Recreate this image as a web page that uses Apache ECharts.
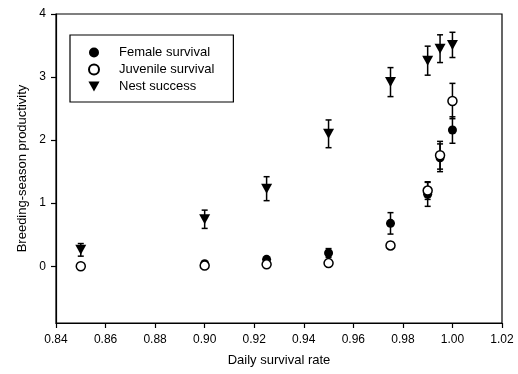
<!DOCTYPE html>
<html>
<head>
<meta charset="utf-8">
<script src="https://cdn.jsdelivr.net/npm/echarts@6/dist/echarts.min.js"></script>
<style>
  html, body { margin: 0; padding: 0; background: #fff; }
  #chart { width: 518px; height: 374px; }
</style>
</head>
<body>
<div id="chart"></div>
<script>
// daily survival rate levels (x)
const xVals = [0.85, 0.90, 0.925, 0.95, 0.975, 0.99, 0.995, 1.00];

// breeding-season productivity, mean and SE
const female = [0, 0.04, 0.11, 0.21, 0.68, 1.14, 1.72, 2.16];
const femaleErr = [0, 0.02, 0.03, 0.07, 0.17, 0.19, 0.22, 0.21];
const juvenile = [0, 0.01, 0.03, 0.05, 0.33, 1.2, 1.76, 2.62];
const juvenileErr = [0, 0.01, 0.02, 0.03, 0.05, 0.14, 0.22, 0.28];
const nest = [0.26, 0.745, 1.23, 2.1, 2.92, 3.26, 3.45, 3.51];
const nestErr = [0.1, 0.145, 0.19, 0.22, 0.23, 0.23, 0.22, 0.2];

const xTicks = [0.84, 0.86, 0.88, 0.90, 0.92, 0.94, 0.96, 0.98, 1.00, 1.02];
const yTicks = [0, 1, 2, 3, 4];

const FONT = "'Liberation Sans', Arial, sans-serif";

function pts(ys) {
  return xVals.map((x, i) => [x, ys[i]]);
}
function errData(ys, es) {
  return xVals
    .map((x, i) => [x, ys[i] - es[i], ys[i] + es[i]])
    .filter((d, i) => es[i] > 0);
}

function errBars(name, ys, es) {
  return {
    type: "custom",
    name: name + " err",
    data: errData(ys, es),
    encode: { x: 0, y: [1, 2] },
    z: 1,
    silent: true,
    renderItem: (params, api) => {
      const x = api.value(0);
      const lo = api.coord([x, api.value(1)]);
      const hi = api.coord([x, api.value(2)]);
      const cap = 3;
      const style = { stroke: "#000", lineWidth: 1.5 };
      return {
        type: "group",
        children: [
          { type: "line", shape: { x1: lo[0], y1: lo[1], x2: hi[0], y2: hi[1] }, style },
          { type: "line", shape: { x1: lo[0] - cap, y1: lo[1], x2: lo[0] + cap, y2: lo[1] }, style },
          { type: "line", shape: { x1: hi[0] - cap, y1: hi[1], x2: hi[0] + cap, y2: hi[1] }, style },
        ],
      };
    },
  };
}

const chart = echarts.init(document.getElementById("chart"), null, { renderer: "canvas" });

chart.setOption({
  animation: false,
  backgroundColor: "#fff",
  grid: {
    left: 56, right: 16, top: 14, bottom: 51,
    show: true, borderColor: "#000", borderWidth: 1.2,
  },
  legend: {
    orient: "vertical",
    left: 70, top: 35,
    padding: [11, 19, 9, 18],
    itemGap: 4,
    itemWidth: 40,
    itemHeight: 10,
    borderColor: "#000",
    borderWidth: 1.2,
    data: ["Female survival", "Juvenile survival", "Nest success"],
    textStyle: { fontFamily: FONT, fontSize: 13, color: "#000" },
  },
  xAxis: {
    type: "value",
    min: 0.84, max: 1.02,
    name: "Daily survival rate",
    nameLocation: "middle",
    nameGap: 31,
    nameTextStyle: { fontFamily: FONT, fontSize: 13, color: "#000" },
    axisLine: { onZero: false, lineStyle: { color: "#000", width: 1.2 } },
    axisTick: { customValues: xTicks, length: 5, lineStyle: { color: "#000", width: 1.2 } },
    axisLabel: {
      customValues: xTicks,
      margin: 11,
      fontFamily: FONT, fontSize: 12, color: "#000",
      formatter: (v) => v.toFixed(2),
    },
    splitLine: { show: false },
  },
  yAxis: {
    type: "value",
    min: -0.9, max: 4,
    name: "Breeding-season productivity",
    nameLocation: "middle",
    nameGap: 27,
    nameTextStyle: { fontFamily: FONT, fontSize: 13, color: "#000" },
    axisLine: { onZero: false, lineStyle: { color: "#000", width: 1.2 } },
    axisTick: { customValues: yTicks, length: 5, lineStyle: { color: "#000", width: 1.2 } },
    axisLabel: {
      customValues: yTicks,
      margin: 10,
      fontFamily: FONT, fontSize: 12, color: "#000",
    },
    splitLine: { show: false },
  },
  series: [
    errBars("Nest success", nest, nestErr),
    errBars("Female survival", female, femaleErr),
    errBars("Juvenile survival", juvenile, juvenileErr),
    {
      type: "scatter",
      name: "Nest success",
      data: pts(nest),
      symbol: "path://M0,0L10,0L5,9Z",
      symbolSize: [11, 10],
      itemStyle: { color: "#000", opacity: 1 },
      z: 3,
    },
    {
      type: "scatter",
      name: "Female survival",
      data: pts(female),
      symbol: "circle",
      symbolSize: 9,
      itemStyle: { color: "#000", opacity: 1 },
      z: 3,
    },
    {
      type: "scatter",
      name: "Juvenile survival",
      data: pts(juvenile),
      symbol: "circle",
      symbolSize: 9,
      itemStyle: { color: "#fff", borderColor: "#000", borderWidth: 1.5, opacity: 1 },
      z: 4,
    },
  ],
});
</script>
</body>
</html>
